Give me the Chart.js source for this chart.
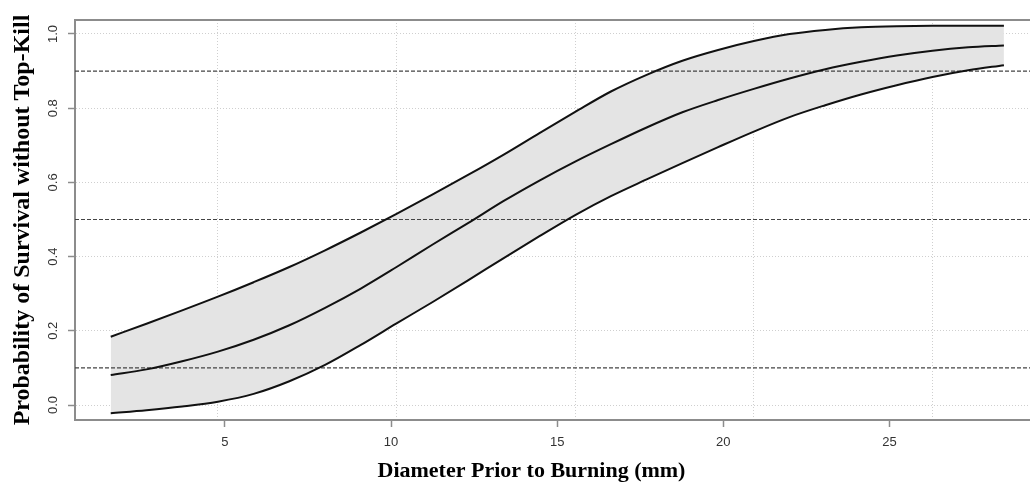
<!DOCTYPE html>
<html>
<head>
<meta charset="utf-8">
<script src="https://cdn.jsdelivr.net/npm/chart.js@4"></script>
<style>
  html, body { margin: 0; padding: 0; background: #fff; }
  #wrap { width: 1030px; height: 485px; }
</style>
</head>
<body>
<div id="wrap"><canvas id="survChart"></canvas></div>
<script>
// diameter prior to burning (mm)
var diameter = [2, 3, 4, 5, 6, 7, 8, 9, 10, 11, 12, 13, 14, 15, 16, 17, 18, 19, 20, 21, 22, 23, 24, 25, 26, 27];
// fitted probability and the confidence band
var fitted = [0.081, 0.096, 0.118, 0.144, 0.176, 0.215, 0.262, 0.314, 0.372, 0.432, 0.490, 0.550, 0.605,
              0.656, 0.703, 0.748, 0.789, 0.822, 0.852, 0.880, 0.905, 0.925, 0.942, 0.955, 0.964, 0.969];
var upper = [0.184, 0.219, 0.255, 0.292, 0.331, 0.372, 0.417, 0.465, 0.515, 0.567, 0.620, 0.675, 0.733,
             0.790, 0.845, 0.890, 0.928, 0.957, 0.981, 1.000, 1.011, 1.018, 1.021, 1.022, 1.022, 1.022];
var lower = [-0.022, -0.014, -0.004, 0.009, 0.030, 0.064, 0.108, 0.162, 0.220, 0.277, 0.336, 0.396, 0.455,
             0.512, 0.563, 0.608, 0.652, 0.695, 0.737, 0.776, 0.808, 0.837, 0.862, 0.884, 0.902, 0.916];
// dashed reference levels
var refLevels = [0.1, 0.5, 0.9];
// tick labels
var xTickValues = [5, 10, 15, 20, 25];
var yTickValues = [0, 0.2, 0.4, 0.6, 0.8, 1.0];

var xTitle = 'Diameter Prior to Burning (mm)';
var yTitle = 'Probability of Survival without Top-Kill';

var xMin = 1.0, xMax = 27.73;      // plotting region for the curves
var labMin = 0.49, labMax = 29.23;  // axis with the printed labels
var yMin = -0.0404, yMax = 1.0377;

var boxGrey = '#8c8c8c';

function toPoints(ys) {
    return diameter.map(function(d, i) { return {x: d, y: ys[i]}; });
}

function curve(label, ys, extra) {
    var ds = {
        label: label,
        data: toPoints(ys),
        borderColor: '#111',
        borderWidth: 2,
        pointRadius: 0,
        cubicInterpolationMode: 'monotone',
        fill: false
    };
    for (var k in extra) ds[k] = extra[k];
    return ds;
}

var datasets = [
    curve('upper', upper, {fill: '+2', backgroundColor: '#e4e4e4'}),
    curve('fitted', fitted, {}),
    curve('lower', lower, {})
];
refLevels.forEach(function(lv) {
    datasets.push({
        label: 'ref ' + lv,
        data: [{x: xMin, y: lv}, {x: xMax, y: lv}],
        borderColor: '#444',
        borderWidth: 1.2,
        borderDash: [4, 2],
        pointRadius: 0,
        fill: false
    });
});

// top edge of the box and the x title
var framePlugin = {
    id: 'frame',
    afterDraw: function(chart) {
        var ctx = chart.ctx, a = chart.chartArea;
        ctx.save();
        ctx.strokeStyle = boxGrey;
        ctx.lineWidth = 2;
        ctx.beginPath();
        ctx.moveTo(a.left, a.top);
        ctx.lineTo(a.right, a.top);
        ctx.stroke();
        ctx.font = 'bold 22px "Liberation Serif"';
        ctx.fillStyle = '#000';
        ctx.textAlign = 'center';
        ctx.textBaseline = 'middle';
        ctx.fillText(xTitle, a.left + a.width * 0.478, 471);
        ctx.restore();
    }
};

new Chart(document.getElementById('survChart'), {
    type: 'line',
    data: {datasets: datasets},
    plugins: [framePlugin],
    options: {
        responsive: true,
        maintainAspectRatio: false,
        animation: false,
        layout: {padding: {top: 20, right: 0, left: 0, bottom: 0}},
        plugins: {
            legend: {display: false},
            tooltip: {enabled: false},
            filler: {drawTime: 'beforeDatasetsDraw'}
        },
        scales: {
            x: {
                type: 'linear',
                position: 'bottom',
                min: xMin,
                max: xMax,
                afterBuildTicks: function(s) { s.ticks = xTickValues.map(function(v) { return {value: v}; }); },
                afterFit: function(s) { s.height = 0; },
                ticks: {display: false},
                grid: {color: '#cfcfcf', lineWidth: 1, drawTicks: false},
                border: {display: false, dash: [1, 2]}
            },
            xLab: {
                type: 'linear',
                position: 'bottom',
                min: labMin,
                max: labMax,
                afterBuildTicks: function(s) { s.ticks = xTickValues.map(function(v) { return {value: v}; }); },
                afterFit: function(s) { s.height = 65; },
                ticks: {
                    color: '#333',
                    padding: 8,
                    maxRotation: 0,
                    font: {family: '"Liberation Sans", Arial', size: 13}
                },
                grid: {drawOnChartArea: false, drawTicks: true, tickLength: 7, tickColor: boxGrey, tickWidth: 1.5},
                border: {display: true, color: boxGrey, width: 2}
            },
            y: {
                type: 'linear',
                position: 'left',
                min: yMin,
                max: yMax,
                afterBuildTicks: function(s) { s.ticks = yTickValues.map(function(v) { return {value: v}; }); },
                afterFit: function(s) { s.width = 75; },
                ticks: {
                    color: '#333',
                    padding: 6,
                    minRotation: 90,
                    maxRotation: 90,
                    crossAlign: 'center',
                    font: {family: '"Liberation Sans", Arial', size: 13},
                    callback: function(v) { return Number(v).toFixed(1); }
                },
                grid: {color: '#cfcfcf', lineWidth: 1, drawTicks: true, tickLength: 7, tickColor: boxGrey, tickWidth: 1.5},
                border: {display: true, color: boxGrey, width: 2, dash: [1, 2]},
                title: {
                    display: true,
                    text: yTitle,
                    color: '#000',
                    padding: {top: 8, bottom: 0},
                    font: {family: '"Liberation Serif"', size: 24, weight: 'bold'}
                }
            }
        }
    }
});
</script>
</body>
</html>
